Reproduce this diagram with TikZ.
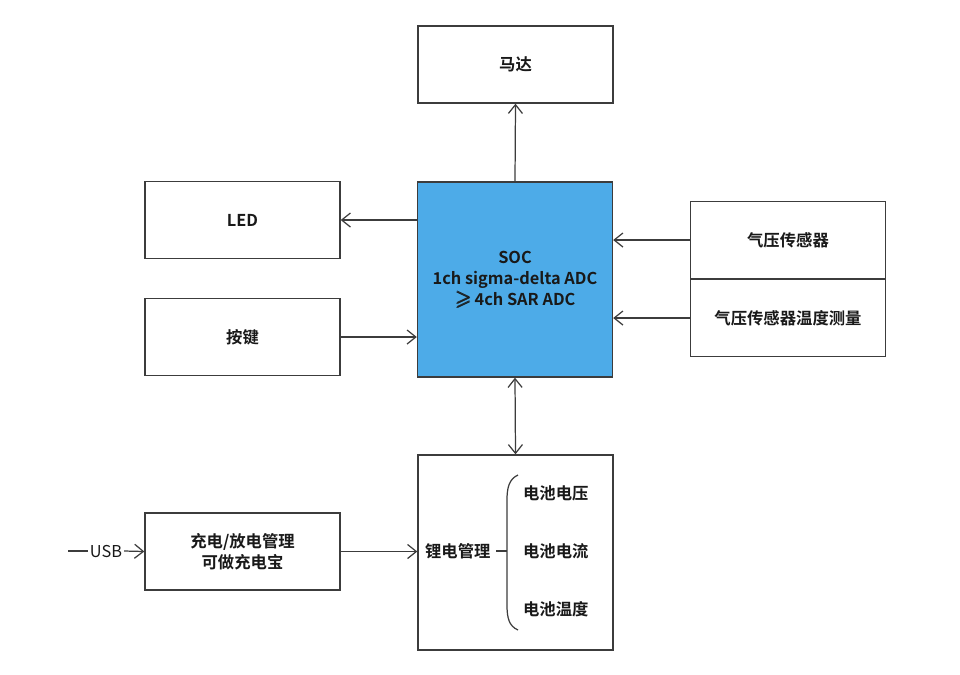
\documentclass[tikz,border=0pt]{standalone}
\usepackage{amsmath,amssymb,bm}
\usepackage{fontspec}
\setmainfont{Noto Sans CJK SC}[BoldFont={* Bold}]
\usepackage{tikz}
\usetikzlibrary{arrows.meta, positioning, calc}
\definecolor{cLine}{RGB}{60,60,60}
\definecolor{cFillSoc}{RGB}{77,171,232}
\definecolor{cText}{RGB}{25,25,25}
\tikzset{
  %% block boxes
  blk/.style={rectangle, draw=cLine, line width=0.8pt, minimum width=3.9cm,
              minimum height=1.54cm, font=\bfseries\fontsize{9.3}{12}\selectfont,
              align=center, text=cText, inner sep=2pt},
  socblk/.style={blk, fill=cFillSoc, minimum height=3.9cm},
  batblk/.style={blk, minimum height=3.9cm},
  %% plain labels
  lbl/.style={font=\bfseries\fontsize{9.3}{12}\selectfont, text=cText, inner sep=1pt},
  %% connectors
  conn/.style={draw=cLine, line width=0.7pt, -{Straight Barb[length=5pt,width=8pt]}},
  conn2/.style={conn, {Straight Barb[length=5pt,width=8pt]}-{Straight Barb[length=5pt,width=8pt]}},
}
\begin{document}
\begin{tikzpicture}[x={(0.02cm,0)}, y={(0,-0.02cm)}]
\useasboundingbox (0,0) rectangle (960,674);

%% ----- blocks -----
\node[blk]    (motor) at (515.5, 64.5)  {马达};
\node[socblk] (soc)   at (515, 279.5)   {SOC\\1ch sigma-delta ADC\\{\large$\bm{\geqslant}$}\,4ch SAR ADC};
\node[blk]    (led)   at (242.5, 220)   {LED};
\node[blk]    (key)   at (242.5, 337)   {按键};
\node[blk]    (sensA) at (788, 240)     {气压传感器};
\node[blk]    (sensB) at (788, 318)     {气压传感器温度测量};
\node[batblk] (bat)   at (515.5, 552.5) {};
\node[blk]    (chg)   at (242.5, 551.5) {充电/放电管理\\可做充电宝};

%% ----- battery items -----
\node[lbl, anchor=west] (batname) at (423, 551) {锂电管理};
\node[lbl, anchor=west] (volt) at (521, 493) {电池电压};
\node[lbl, anchor=west] (curr) at (521, 551) {电池电流};
\node[lbl, anchor=west] (temp) at (521, 609) {电池温度};

%% brace
\coordinate (brTop) at (518, 475);
\coordinate (brMid) at (507, 551);
\coordinate (brBot) at (518, 630);
\draw[cLine, line width=0.7pt]
  (brTop) .. controls (509,479) and (507,488) .. (507,500) -- (507,605)
  .. controls (507,618) and (509,626) .. (brBot);
\draw[cLine, line width=0.7pt] (batname.east) ++(2pt,0) -- (brMid);

%% ----- USB input -----
\node[lbl] (usb) at (106, 551) {\mdseries USB};
\coordinate (usbIn) at (68, 551);
\draw[cLine, line width=0.7pt] (usbIn) -- (usb.west);
\draw[conn] (usb.east) -- (chg.west);

%% ----- connectors -----
\draw[conn] (soc.north) -- (motor.south);
\draw[conn] (soc.west |- led.east) -- (led.east);
\draw[conn] (key.east) -- (soc.west |- key.east);
\draw[conn] (sensA.west) -- (soc.east |- sensA.west);
\draw[conn] (sensB.west) -- (soc.east |- sensB.west);
\draw[conn2] (soc.south) -- (bat.north);
\draw[conn] (chg.east) -- (bat.west |- chg.east);

\end{tikzpicture}
\end{document}
